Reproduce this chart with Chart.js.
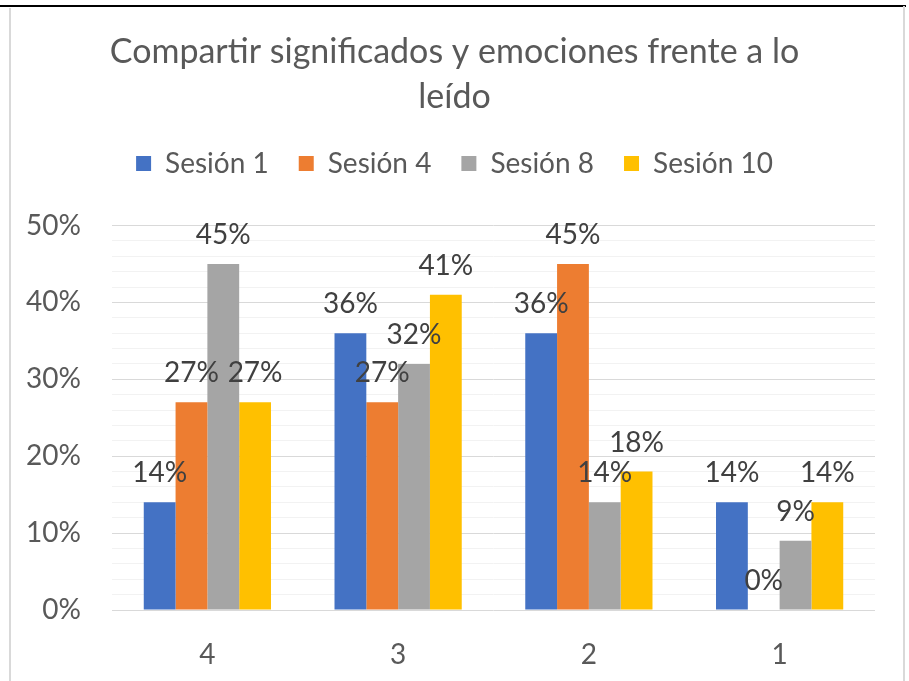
<!DOCTYPE html>
<html>
<head>
<meta charset="utf-8">
<script src="https://cdn.jsdelivr.net/npm/chart.js@4/dist/chart.umd.min.js"></script>
<style>
  html, body { margin: 0; padding: 0; background: #ffffff; }
  #wrap { position: relative; width: 909px; height: 681px; overflow: hidden; }
  #c { position: absolute; left: 0; top: 0; }
  .ln { position: absolute; }
</style>
</head>
<body>
<div id="wrap">
  <canvas id="c" width="909" height="681"></canvas>
  <div class="ln" style="left:0;top:5px;width:906px;height:2px;background:#000;"></div>
  <div class="ln" style="left:9px;top:8px;width:2px;height:673px;background:#d9d9d9;"></div>
  <div class="ln" style="left:903px;top:6px;width:2px;height:675px;background:#d9d9d9;"></div>
</div>
<script>
const titleLines = ['Compartir significados y emociones frente a lo', 'leído'];
const categories = ['4', '3', '2', '1'];
const seriesNames = ['Sesión 1', 'Sesión 4', 'Sesión 8', 'Sesión 10'];
const sesion1 = [14, 36, 36, 14];
const sesion4 = [27, 27, 45, 0];
const sesion8 = [45, 32, 14, 9];
const sesion10 = [27, 41, 18, 14];
const colors = ['#4472C4', '#ED7D31', '#A5A5A5', '#FFC000'];

const FONT = 'Lato, "Open Sans", sans-serif';

const labelPlugin = {
  id: 'barLabels',
  afterDatasetsDraw(chart) {
    const ctx = chart.ctx;
    ctx.save();
    ctx.font = '28px ' + FONT;
    ctx.fillStyle = '#404040';
    ctx.textAlign = 'center';
    ctx.textBaseline = 'middle';
    chart.data.datasets.forEach((ds, i) => {
      const meta = chart.getDatasetMeta(i);
      meta.data.forEach((el, j) => {
        ctx.fillText(ds.data[j] + '%', el.x, el.y - 29);
      });
    });
    ctx.restore();
  }
};

const legendSpace = {
  id: 'legendSpace',
  beforeInit(chart) {
    const lg = chart.legend;
    const orig = lg.fit;
    lg.fit = function () {
      orig.call(this);
      this.height += 38;
    };
  }
};

const allSeries = [sesion1, sesion4, sesion8, sesion10];

new Chart(document.getElementById('c'), {
  type: 'bar',
  data: {
    labels: categories,
    datasets: allSeries.map((d, i) => ({
      label: seriesNames[i],
      data: d,
      backgroundColor: colors[i],
      borderWidth: 0,
      categoryPercentage: 0.667,
      barPercentage: 1.0
    }))
  },
  options: {
    responsive: false,
    animation: false,
    layout: { padding: { left: 0, right: 0, top: 12, bottom: 10 } },
    plugins: {
      title: {
        display: true,
        text: titleLines,
        color: '#595959',
        font: { family: FONT, size: 34, weight: 'normal', lineHeight: 1.3235 },
        padding: { top: 17.5, bottom: 0 }
      },
      legend: {
        display: true,
        labels: {
          color: '#595959',
          font: { family: FONT, size: 28 },
          boxWidth: 15,
          boxHeight: 15,
          padding: 30
        }
      },
      tooltip: { enabled: false }
    },
    scales: {
      x: {
        grid: { display: false },
        border: { display: false },
        ticks: { color: '#595959', font: { family: FONT, size: 28 }, padding: 20 },
        afterFit(scale) { scale.height = 61; }
      },
      y: {
        min: 0,
        max: 50,
        border: { display: false },
        grid: {
          drawTicks: false,
          color: (c) => (c.tick && c.tick.value % 10 === 0) ? '#d9d9d9' : '#f2f2f2',
          lineWidth: 1
        },
        ticks: {
          stepSize: 2,
          autoSkip: false,
          color: '#595959',
          font: { family: FONT, size: 28 },
          padding: 31,
          callback: (v) => (v % 10 === 0 ? v + '%' : '')
        },
        afterFit(scale) { scale.width = 112; }
      },
      yRightSpace: {
        type: 'linear',
        axis: 'y',
        position: 'right',
        display: true,
        min: 0,
        max: 50,
        grid: { display: false },
        border: { display: false },
        ticks: { display: false },
        afterFit(scale) { scale.width = 34; }
      }
    }
  },
  plugins: [labelPlugin, legendSpace]
});
</script>
</body>
</html>
